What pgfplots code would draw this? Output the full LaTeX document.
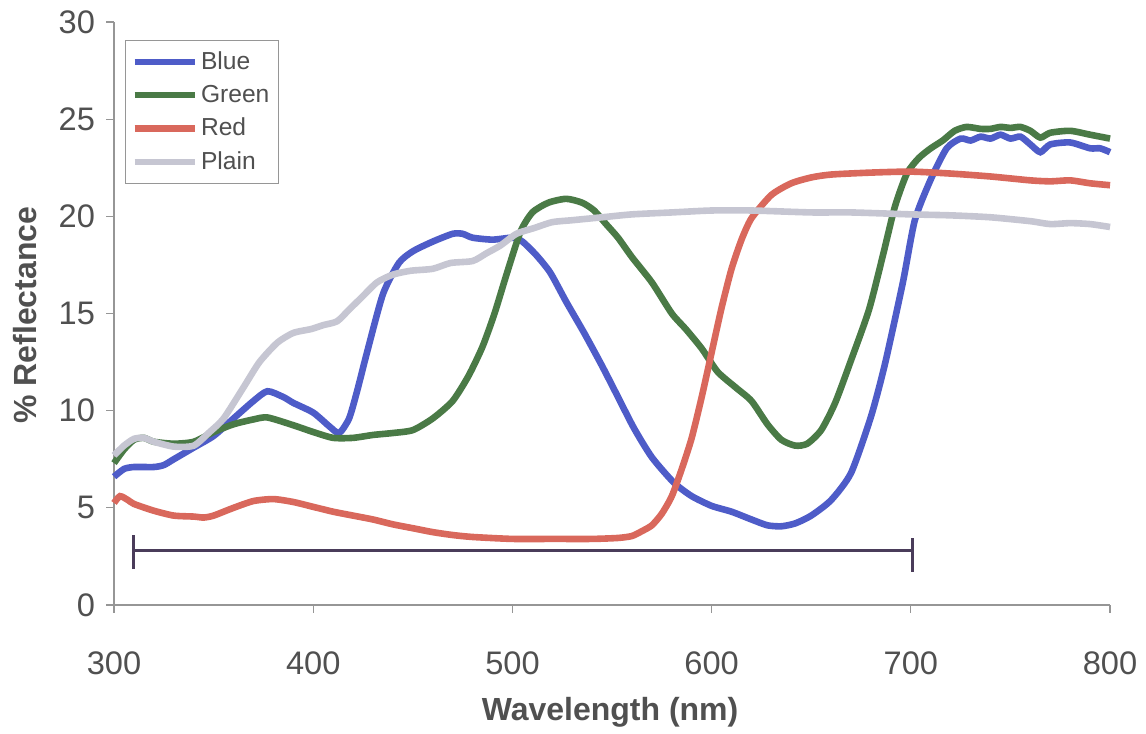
\documentclass[border=0pt]{standalone}
\usepackage{pgfplots}
\pgfplotsset{compat=1.18}
\usepackage{fontspec}
\setmainfont{Liberation Sans}
\definecolor{cblue}{RGB}{78,92,200}
\definecolor{cgreen}{RGB}{74,122,70}
\definecolor{cred}{RGB}{217,104,92}
\definecolor{cplain}{RGB}{198,198,210}
\definecolor{cbar}{RGB}{74,60,90}
\definecolor{ctext}{RGB}{80,80,80}
\definecolor{caxis}{RGB}{150,150,150}
\begin{document}
\begin{tikzpicture}
\begin{axis}[
  scale only axis,
  width=498pt, height=291.5pt,
  xmin=300, xmax=800, ymin=0, ymax=30,
  xtick={300,400,...,800}, ytick={0,5,...,30},
  axis x line*=bottom, axis y line*=left,
  axis line style={caxis, line width=0.6pt, -},
  tick style={caxis, line width=0.6pt},
  tick align=outside, major tick length=4pt,
  /pgf/number format/assume math mode=true,
  ticklabel style={font=\fontsize{16.3}{18}\selectfont, text=ctext},
  xticklabel style={yshift=-16pt},
  yticklabel style={xshift=-2pt},
  xlabel={Wavelength (nm)}, ylabel={\% Reflectance},
  every axis x label/.style={at={(rel axis cs:0.498,-0.1835)}, anchor=center,
    font=\fontsize{16}{18}\selectfont\bfseries, text=ctext},
  every axis y label/.style={at={(rel axis cs:-0.0894,0.497)}, rotate=90, anchor=center,
    font=\fontsize{16}{18}\selectfont\bfseries, text=ctext},
  clip=false,
  legend style={at={(rel axis cs:0.011,0.969)}, anchor=north west, draw=caxis,
    font=\fontsize{12.3}{14}\selectfont, text=ctext, row sep=2.4pt,
    inner xsep=3pt, inner ysep=3.5pt, nodes={inner xsep=1.5pt}},
  legend cell align=left,
  legend image code/.code={\draw[#1] (0pt,0pt) -- (30pt,0pt);},
  every axis plot/.append style={line width=3.3pt, smooth, tension=0.4},
]
\path (rel axis cs:-0.1145,-0.2178) rectangle (rel axis cs:1.0361,1.0377);
\addplot[cblue] coordinates {
(300,6.6)(305,7.0)(310,7.1)(320,7.1)(325,7.2)(330,7.5)(340,8.1)(350,8.7)(360,9.6)(370,10.5)
(377,11.0)(385,10.7)(390,10.4)(400,9.9)(408,9.2)(413,8.85)(418,9.6)(422,11.0)(427,13.0)(435,16.0)
(443,17.6)(450,18.2)(460,18.7)(470,19.1)(475,19.1)(480,18.9)(490,18.8)(500,18.9)(505,18.7)(512,18.0)
(519,17.1)(527,15.6)(536,14.0)(545,12.3)(553,10.7)(561,9.1)(570,7.6)(581,6.3)(590,5.6)(600,5.1)
(610,4.8)(620,4.4)(628,4.1)(635,4.05)(642,4.2)(650,4.6)(660,5.4)(670,6.8)(680,9.7)(687,12.4)
(696,16.6)(702,19.8)(710,21.9)(718,23.5)(725,24.0)(730,23.9)(735,24.1)(740,24.0)(745,24.2)(750,24.0)
(755,24.1)(760,23.7)(765,23.3)(770,23.7)(780,23.8)(790,23.5)(795,23.5)(800,23.3)};
\addlegendentry{Blue}
\addplot[cgreen] coordinates {
(300,7.3)(305,8.0)(310,8.5)(315,8.6)(320,8.4)(330,8.3)(340,8.4)(350,8.9)(360,9.3)(370,9.55)
(377,9.65)(390,9.25)(400,8.9)(410,8.6)(420,8.6)(430,8.75)(440,8.85)(450,9.0)(460,9.6)(470,10.5)
(478,11.8)(485,13.3)(491,15.0)(497,17.0)(504,19.2)(510,20.2)(518,20.7)(527,20.9)(535,20.7)
(541,20.3)(547,19.6)(553,18.9)(560,17.9)(570,16.6)(580,15.0)(587,14.2)(595,13.2)(603,12.0)(612,11.2)
(620,10.5)(628,9.3)(635,8.5)(642,8.2)(648,8.3)(655,9.0)(662,10.4)(670,12.6)(679,15.2)(686,18.0)
(692,20.5)(698,22.2)(704,23.0)(710,23.5)(716,23.9)(722,24.4)(728,24.6)(735,24.5)(740,24.5)(745,24.6)
(750,24.55)(755,24.6)(760,24.4)(765,24.05)(770,24.3)(780,24.4)(790,24.2)(800,24.0)};
\addlegendentry{Green}
\addplot[cred] coordinates {
(300,5.25)(303,5.6)(307,5.4)(310,5.2)(320,4.85)(330,4.6)(340,4.55)(345,4.5)(350,4.6)(360,5.0)
(370,5.35)(380,5.45)(390,5.3)(400,5.05)(410,4.8)(420,4.6)(430,4.4)(440,4.15)(450,3.95)(460,3.75)
(470,3.6)(480,3.5)(500,3.4)(520,3.4)(540,3.4)(553,3.45)(560,3.55)(565,3.8)(570,4.1)(575,4.7)
(580,5.6)(585,7.0)(590,8.6)(595,10.7)(600,13.0)(605,15.3)(610,17.3)(615,18.8)(620,19.9)(630,21.1)
(640,21.7)(650,22.0)(660,22.15)(680,22.25)(700,22.3)(720,22.2)(740,22.05)(760,21.85)(770,21.8)(780,21.85)
(790,21.7)(800,21.6)};
\addlegendentry{Red}
\addplot[cplain] coordinates {
(300,7.7)(305,8.2)(310,8.55)(315,8.6)(320,8.4)(330,8.15)(340,8.2)(348,8.9)(355,9.6)(365,11.2)
(373,12.5)(382,13.5)(390,14.0)(399,14.2)(405,14.4)(412,14.6)(418,15.2)(424,15.8)(432,16.6)(440,17.0)
(449,17.2)(460,17.3)(469,17.6)(480,17.7)(487,18.1)(494,18.5)(502,19.1)(511,19.4)(520,19.7)(530,19.8)
(545,19.95)(560,20.1)(580,20.2)(600,20.3)(620,20.3)(650,20.2)(670,20.2)(700,20.1)(720,20.05)(740,19.95)
(760,19.75)(770,19.6)(780,19.65)(790,19.6)(800,19.45)};
\addlegendentry{Plain}
\addplot[cbar, line width=1.5pt, forget plot] coordinates {(310,2.8)(701,2.8)};
\addplot[cbar, line width=1.5pt, forget plot] coordinates {(310,1.85)(310,3.6)};
\addplot[cbar, line width=1.5pt, forget plot] coordinates {(701,1.7)(701,3.45)};
\end{axis}
\end{tikzpicture}
\end{document}
